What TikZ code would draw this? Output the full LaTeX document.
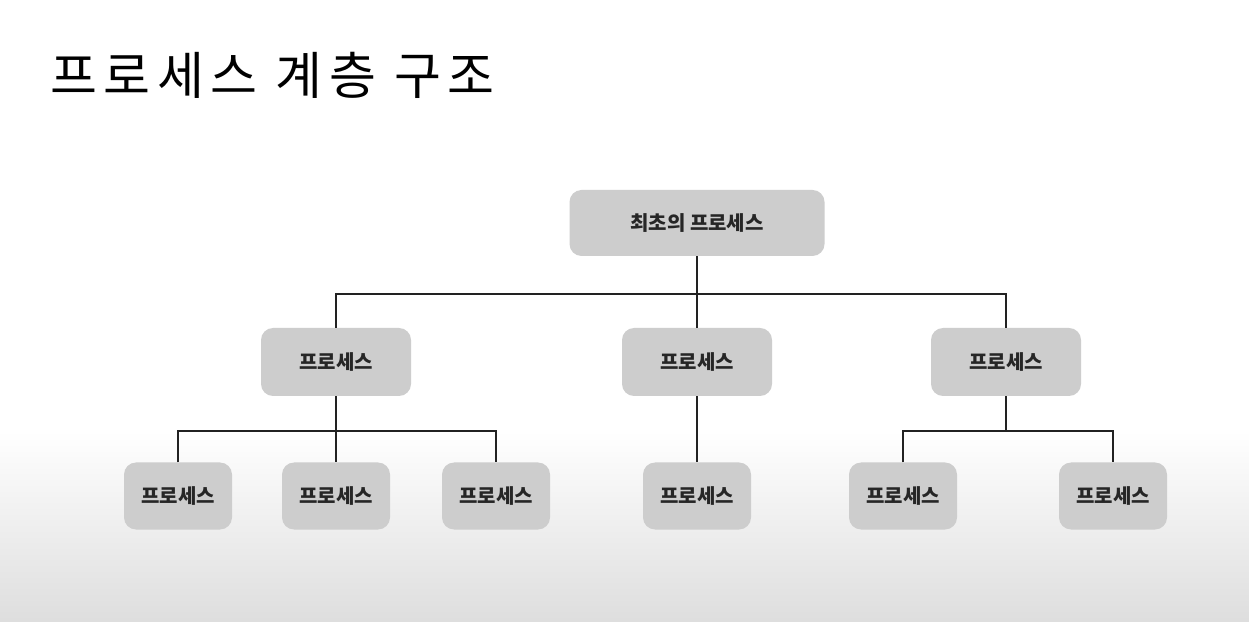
\documentclass[tikz,border=0pt]{standalone}
\usepackage{fontspec}
\newfontfamily\krfont{Noto Sans CJK KR}
\newfontfamily\krtitle{Noto Sans CJK KR}[LetterSpace=13]
\usetikzlibrary{positioning}
\definecolor{boxgray}{HTML}{CDCDCD}
\definecolor{wiregray}{HTML}{222222}

\tikzset{
	proc/.style={fill=boxgray, rounded corners=12pt, inner sep=0pt,
		font=\krfont\bfseries\fontsize{20}{20}\selectfont, text=black!85},
	rootproc/.style={proc, minimum width=255pt, minimum height=66pt},
	midproc/.style={proc, minimum width=150pt, minimum height=68pt},
	leafproc/.style={proc, minimum width=108pt, minimum height=67pt},
	wire/.style={draw=wiregray, line width=1.3pt}
}

\begin{document}
\begin{tikzpicture}
	[x=1pt, y=1pt]
	\useasboundingbox (0,0) rectangle (1249,621);
	\fill[white] (0,0) rectangle (1249,621);
	\shade[top color=white, bottom color=black!13] (0,0) rectangle (1249,190);

	% title
	\node[anchor=west, inner sep=0pt, font=\krtitle\fontsize{51}{51}\selectfont] (title) at (50,546) {프로세스 계층 구조};

	% tree
	\node[rootproc] (root) at (697,398) {최초의 프로세스};
	\node[midproc] (p1) at (336,259) {프로세스};
	\node[midproc] (p2) at (697,259) {프로세스};
	\node[midproc] (p3) at (1006,259) {프로세스};
	\node[leafproc] (c1) at (178,125) {프로세스};
	\node[leafproc] (c2) at (336,125) {프로세스};
	\node[leafproc] (c3) at (496,125) {프로세스};
	\node[leafproc] (c4) at (697,125) {프로세스};
	\node[leafproc] (c5) at (903,125) {프로세스};
	\node[leafproc] (c6) at (1113,125) {프로세스};

	\coordinate (j0) at (697,327);
	\coordinate (j1) at (336,190);
	\coordinate (j3) at (1006,190);

	% connectors
	\draw[wire] (root) -- (j0);
	\draw[wire] (p1) |- (j0) -| (p3);
	\draw[wire] (j0) -- (p2);
	\draw[wire] (p1) -- (c2);
	\draw[wire] (c1) |- (j1) -| (c3);
	\draw[wire] (p2) -- (c4);
	\draw[wire] (p3) -- (j3);
	\draw[wire] (c5) |- (j3) -| (c6);
\end{tikzpicture}
\end{document}
